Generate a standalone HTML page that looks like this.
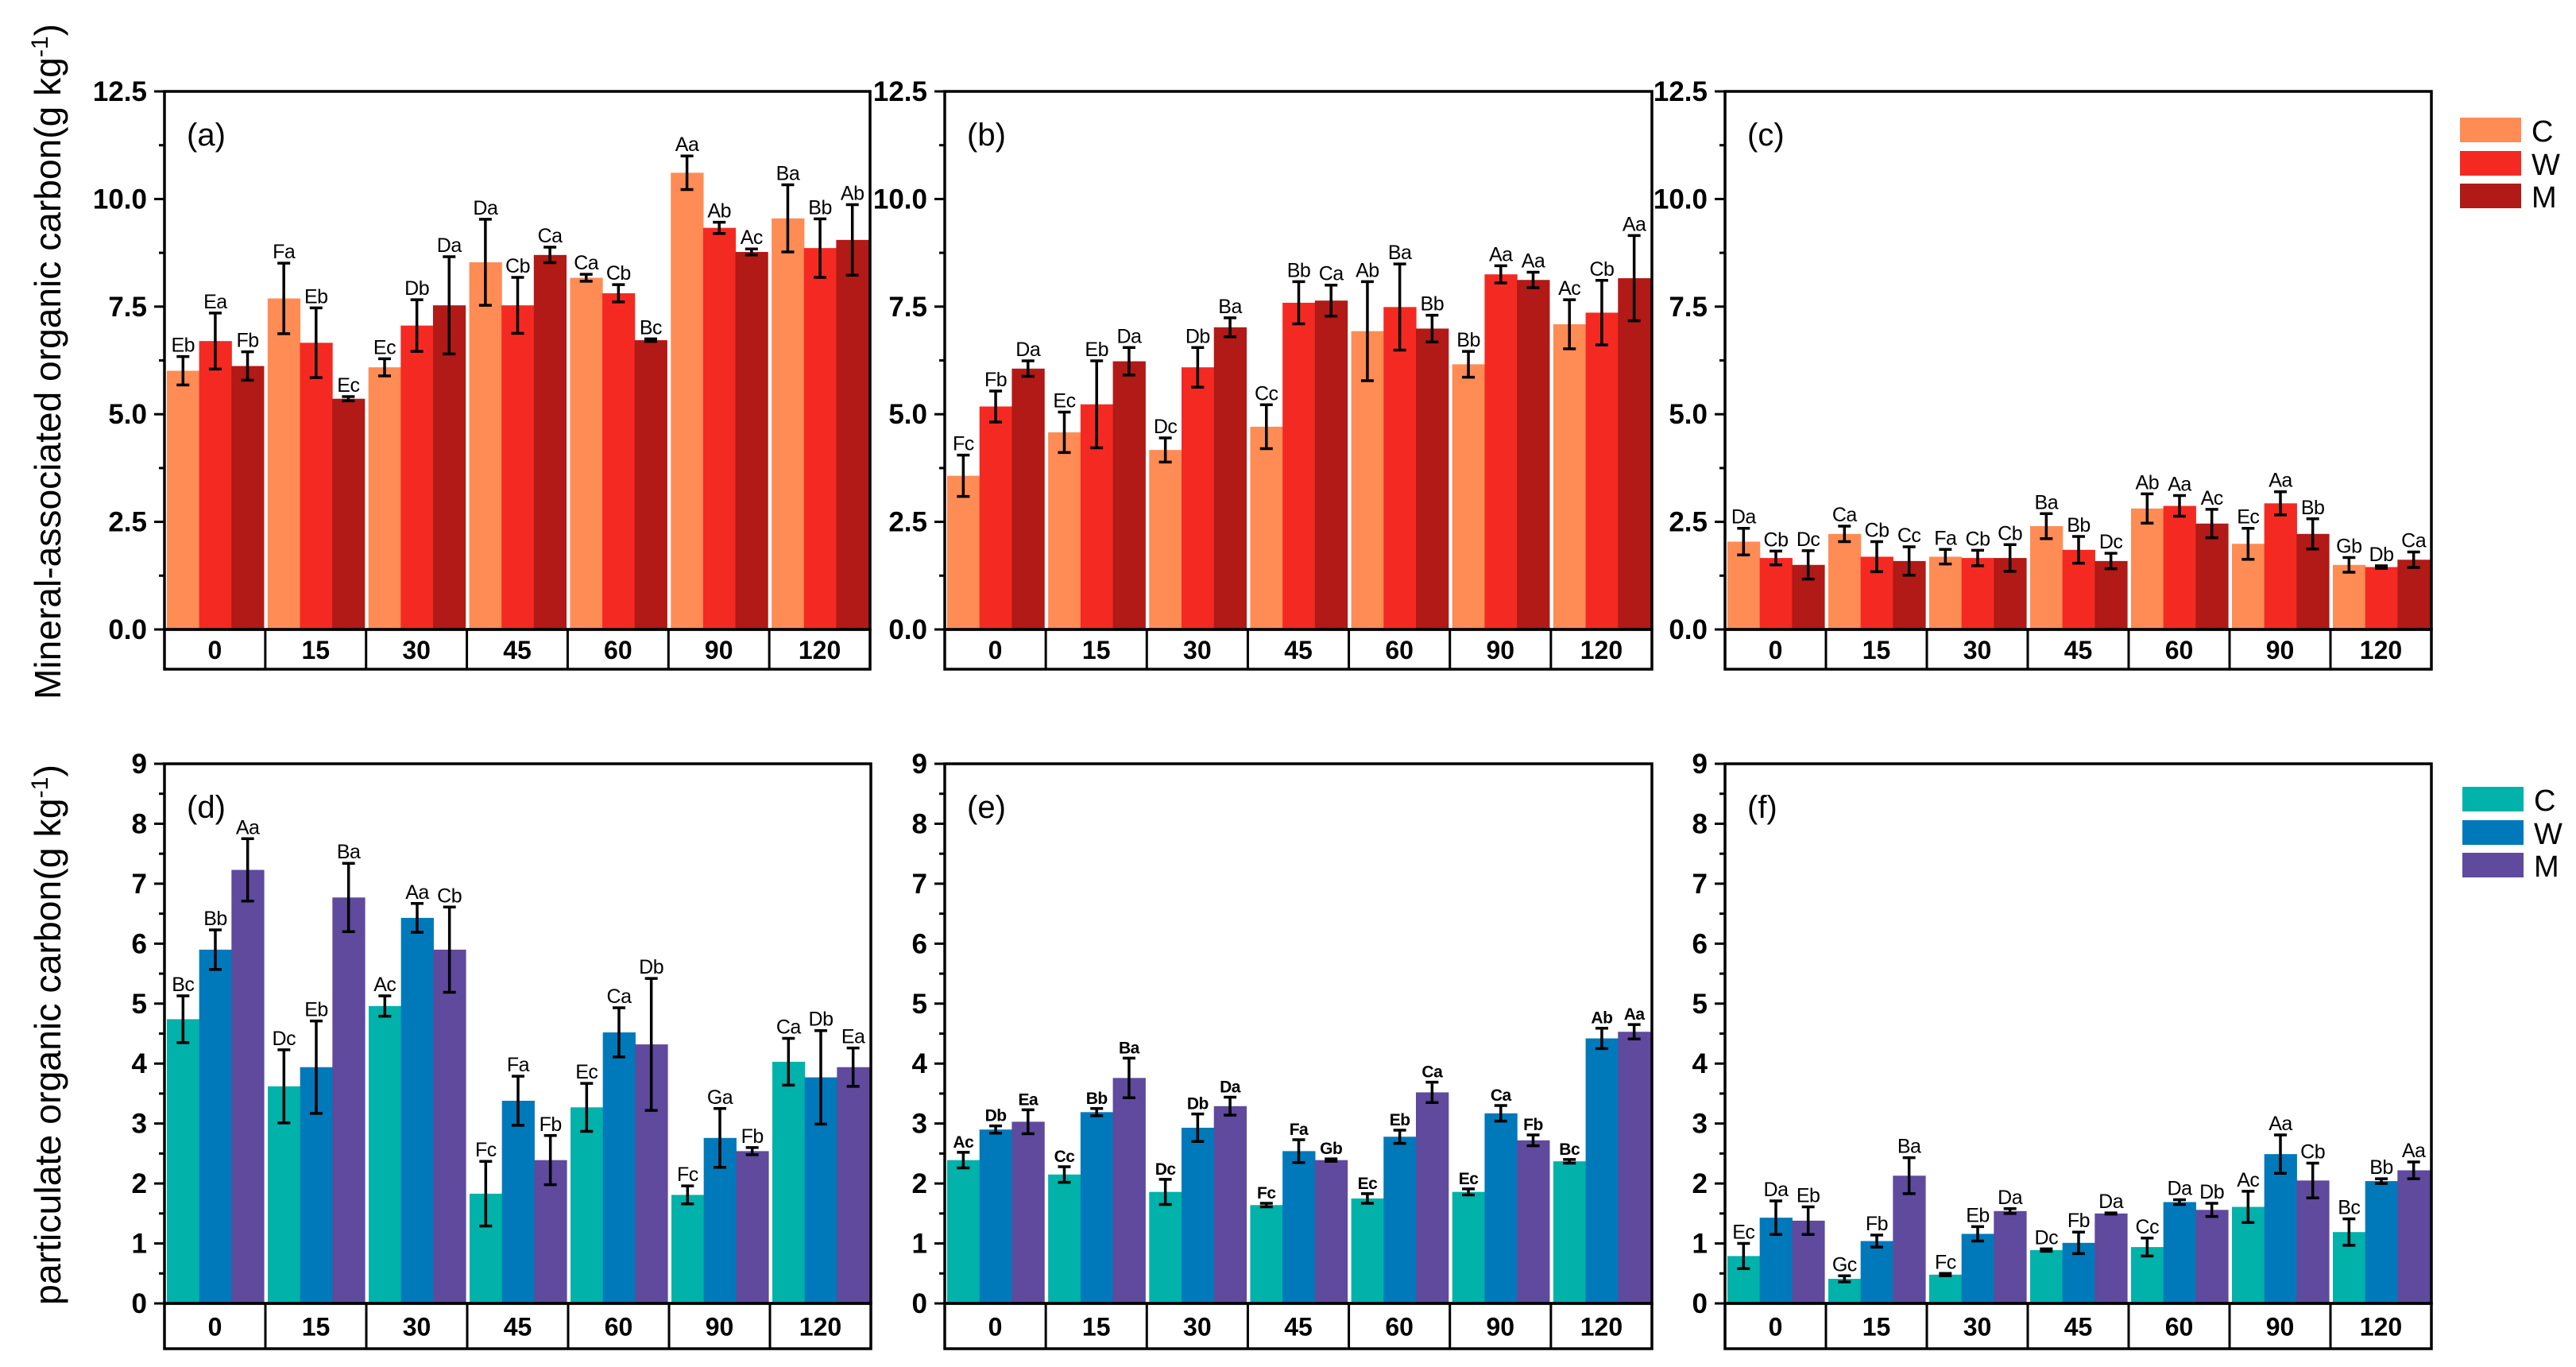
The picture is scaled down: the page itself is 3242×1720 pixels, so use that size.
<!DOCTYPE html>
<html><head><meta charset="utf-8"><style>
html,body{margin:0;padding:0;background:#fff;}
svg{display:block;font-family:"Liberation Sans",Arial,sans-serif;}
</style></head><body>
<svg id="fig" width="3242" height="1720" viewBox="0 0 3242 1720" xmlns="http://www.w3.org/2000/svg">
<text transform="translate(76,455) rotate(-90)" text-anchor="middle" font-size="46" textLength="850" lengthAdjust="spacingAndGlyphs">Mineral-associated organic carbon(g kg<tspan dy="-16" font-size="30">-1</tspan><tspan dy="16">)</tspan></text>
<text transform="translate(76,1302) rotate(-90)" text-anchor="middle" font-size="46" textLength="680" lengthAdjust="spacingAndGlyphs">particulate organic carbon(g kg<tspan dy="-16" font-size="30">-1</tspan><tspan dy="16">)</tspan></text>
</svg>
<script>
const categories = ["0","15","30","45","60","90","120"];
const seriesNames = ["C","W","M"];
// Panel a
const aC = [6.01,7.69,6.09,8.53,8.17,10.61,9.55];
const aW = [6.70,6.66,7.06,7.53,7.81,9.33,8.86];
const aM = [6.12,5.36,7.53,8.70,6.72,8.77,9.05];
const aCe = [0.33,0.82,0.20,1.00,0.08,0.39,0.78];
const aWe = [0.65,0.81,0.60,0.65,0.20,0.13,0.68];
const aMe = [0.33,0.05,1.13,0.18,0.03,0.07,0.82];
const aL = [["Eb","Ea","Fb"],["Fa","Eb","Ec"],["Ec","Db","Da"],["Da","Cb","Ca"],["Ca","Cb","Bc"],["Aa","Ab","Ac"],["Ba","Bb","Ab"]];
// Panel b
const bC = [3.57,4.58,4.17,4.71,6.93,6.16,7.09];
const bW = [5.18,5.23,6.09,7.59,7.49,8.25,7.36];
const bM = [6.06,6.23,7.02,7.64,6.99,8.12,8.16];
const bCe = [0.48,0.47,0.28,0.51,1.15,0.30,0.57];
const bWe = [0.36,1.01,0.46,0.49,1.00,0.20,0.75];
const bMe = [0.18,0.32,0.22,0.36,0.31,0.18,0.99];
const bL = [["Fc","Fb","Da"],["Ec","Eb","Da"],["Dc","Db","Ba"],["Cc","Bb","Ca"],["Ab","Ba","Bb"],["Bb","Aa","Aa"],["Ac","Cb","Aa"]];
// Panel c
const cC = [2.04,2.22,1.69,2.40,2.81,1.99,1.50];
const cW = [1.66,1.69,1.66,1.85,2.87,2.93,1.45];
const cM = [1.50,1.59,1.66,1.59,2.46,2.22,1.62];
const cCe = [0.31,0.18,0.17,0.29,0.34,0.36,0.17];
const cWe = [0.16,0.35,0.18,0.31,0.24,0.27,0.03];
const cMe = [0.33,0.33,0.31,0.18,0.33,0.35,0.18];
const cL = [["Da","Cb","Dc"],["Ca","Cb","Cc"],["Fa","Cb","Cb"],["Ba","Bb","Dc"],["Ab","Aa","Ac"],["Ec","Aa","Bb"],["Gb","Db","Ca"]];
// Panel d
const dC = [4.74,3.62,4.96,1.83,3.27,1.81,4.03];
const dW = [5.90,3.94,6.43,3.38,4.52,2.76,3.77];
const dM = [7.23,6.77,5.90,2.39,4.32,2.54,3.94];
const dCe = [0.39,0.61,0.17,0.54,0.40,0.15,0.39];
const dWe = [0.33,0.77,0.24,0.41,0.41,0.49,0.78];
const dMe = [0.52,0.57,0.71,0.41,1.10,0.06,0.32];
const dL = [["Bc","Bb","Aa"],["Dc","Eb","Ba"],["Ac","Aa","Cb"],["Fc","Fa","Fb"],["Ec","Ca","Db"],["Fc","Ga","Fb"],["Ca","Db","Ea"]];
// Panel e
const eC = [2.39,2.15,1.86,1.64,1.75,1.86,2.37];
const eW = [2.90,3.19,2.93,2.54,2.78,3.17,4.42];
const eM = [3.03,3.76,3.29,2.39,3.52,2.72,4.53];
const eCe = [0.13,0.13,0.21,0.03,0.08,0.05,0.03];
const eWe = [0.06,0.06,0.23,0.19,0.11,0.13,0.17];
const eMe = [0.20,0.33,0.15,0.02,0.17,0.09,0.12];
const eL = [["Ac","Db","Ea"],["Cc","Bb","Ba"],["Dc","Db","Da"],["Fc","Fa","Gb"],["Ec","Eb","Ca"],["Ec","Ca","Fb"],["Bc","Ab","Aa"]];
// Panel f
const fC = [0.79,0.41,0.48,0.89,0.94,1.61,1.19];
const fW = [1.43,1.04,1.16,1.01,1.69,2.49,2.04];
const fM = [1.38,2.13,1.54,1.50,1.56,2.05,2.22];
const fCe = [0.21,0.05,0.02,0.02,0.15,0.26,0.22];
const fWe = [0.28,0.10,0.12,0.18,0.04,0.32,0.04];
const fMe = [0.23,0.30,0.04,0.01,0.11,0.29,0.14];
const fL = [["Ec","Da","Eb"],["Gc","Fb","Ba"],["Fc","Eb","Da"],["Dc","Fb","Da"],["Cc","Da","Db"],["Ac","Aa","Cb"],["Bc","Bb","Aa"]];
const topTicks = ["0.0","2.5","5.0","7.5","10.0","12.5"];
const topTickVals = [0,2.5,5,7.5,10,12.5];
const botTicks = ["0","1","2","3","4","5","6","7","8","9"];
const botTickVals = [0,1,2,3,4,5,6,7,8,9];

const svg = document.getElementById('fig');
const NS = "http://www.w3.org/2000/svg";
function mk(tag, attrs, parent){ const e=document.createElementNS(NS,tag); for(const k in attrs) e.setAttribute(k,attrs[k]); (parent||svg).appendChild(e); return e; }

const warm = ["#FF8C55","#F42A22","#B11A16"];
const cool = ["#00B2AA","#0079BA","#5F4A9D"];

function panel(id, x0, x1, yTop, yZero, yBox, max, tickVals, tickLabels, minorStep, vals, errs, labs, colors, bold, labFont){
  const g = mk('g',{});
  
  
  const ys = v => yZero - (v/max)*(yZero-yTop);
  const cell = (x1-x0)/categories.length;
  const bw = (cell-5)/3;
  // bars
  categories.forEach((cat,i)=>{
    for(let s=0;s<3;s++){
      const v = vals[s][i], e = errs[s][i];
      const bx = x0 + i*cell + 3 + s*bw;
      const r = mk('rect',{x:bx,y:ys(v),width:bw+0.6,height:yZero-ys(v),fill:colors[s]},g);
      
      
      const cx = bx + bw/2;
      const eb = mk('path',{d:`M${cx},${ys(v+e)}V${ys(v-e)}M${cx-8},${ys(v+e)}H${cx+8}M${cx-8},${ys(v-e)}H${cx+8}`,stroke:'#000','stroke-width':3.5,fill:'none'},g);
      
      
      const t = mk('text',{x:cx,y:ys(v+e)-6,'text-anchor':'middle','font-size':labFont,'font-weight':bold?'bold':'normal','letter-spacing':'-0.5'},g);
      t.textContent = labs[i][s];
      
      
    }
  });
  // frame
  const fr = mk('rect',{x:x0,y:yTop,width:x1-x0,height:yZero-yTop,fill:'none',stroke:'#000','stroke-width':3.5},g);
  
  
  // category box
  const cb = mk('rect',{x:x0,y:yZero,width:x1-x0,height:yBox-yZero,fill:'none',stroke:'#000','stroke-width':3.5},g);
  
  
  categories.forEach((cat,i)=>{
    if(i>0){ mk('line',{x1:x0+i*cell,x2:x0+i*cell,y1:yZero,y2:yBox,stroke:'#000','stroke-width':3},g); }
    const t = mk('text',{x:x0+(i+0.5)*cell,y:(yZero+yBox)/2+12,'text-anchor':'middle','font-size':32,'font-weight':'bold'},g);
    t.textContent = cat;
    
    
  });
  // ticks
  for(let v=0; v<=max+1e-9; v+=minorStep){
    const isMajor = tickVals.some(t=>Math.abs(t-v)<1e-6);
    mk('line',{x1:x0-(isMajor?13:7),x2:x0,y1:ys(v),y2:ys(v),stroke:'#000','stroke-width':3},g);
  }
  tickVals.forEach((v,i)=>{
    const t = mk('text',{x:x0-22,y:ys(v)+12,'text-anchor':'end','font-size':35,'font-weight':'bold'},g);
    t.textContent = tickLabels[i];
    
    
  });
  const pl = mk('text',{x:x0+28,y:yTop+68,'font-size':40},g);
  pl.textContent = '('+id+')';
  
  
}

panel('a',207,1095,115,792,842,12.5,topTickVals,topTicks,1.25,[aC,aW,aM],[aCe,aWe,aMe],aL,warm,false,25);
panel('b',1189,2079,115,792,842,12.5,topTickVals,topTicks,1.25,[bC,bW,bM],[bCe,bWe,bMe],bL,warm,false,25);
panel('c',2171,3060,115,792,842,12.5,topTickVals,topTicks,1.25,[cC,cW,cM],[cCe,cWe,cMe],cL,warm,false,25);
panel('d',207,1096,961,1640,1697,9,botTickVals,botTicks,0.5,[dC,dW,dM],[dCe,dWe,dMe],dL,cool,false,25);
panel('e',1189,2079,961,1640,1697,9,botTickVals,botTicks,0.5,[eC,eW,eM],[eCe,eWe,eMe],eL,cool,true,21);
panel('f',2171,3060,961,1640,1697,9,botTickVals,botTicks,0.5,[fC,fW,fM],[fCe,fWe,fMe],fL,cool,false,25);

function legend(name, x, ys, colors){
  const g = mk('g',{});
  
  
  seriesNames.forEach((s,i)=>{
    const r = mk('rect',{x:x,y:ys[i],width:77,height:31,fill:colors[i]},g);
    
    
    const t = mk('text',{x:x+90,y:ys[i]+30,'font-size':38},g);
    t.textContent = s;
    
    
  });
}
legend('legend-top',3096,[148,190,231],warm);
legend('legend-bottom',3099,[990,1032,1073],cool);
</script>
</body></html>
